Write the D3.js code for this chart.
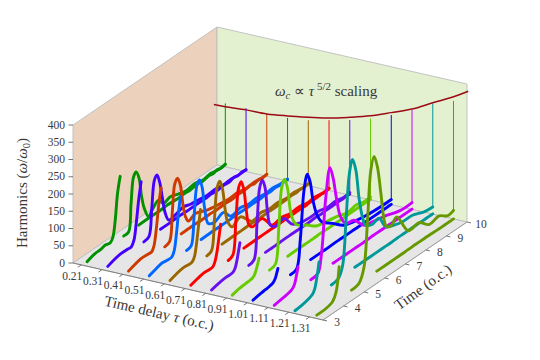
<!DOCTYPE html>
<html><head><meta charset="utf-8">
<script src="https://cdn.jsdelivr.net/npm/d3@7"></script>
<style>html,body{margin:0;background:#fff}svg{display:block}text{font-family:"Liberation Serif",serif;fill:#383838}</style>
</head><body><svg id="c" width="540" height="360"></svg>
<script>
const tauTicks=[0.21,0.31,0.41,0.51,0.61,0.71,0.81,0.91,1.01,1.11,1.21,1.31];
const timeTicks=[3,4,5,6,7,8,9,10];
const harmTicks=[0,50,100,150,200,250,300,350,400];
const colors=["#009000","#4400ff","#cc3a00","#0066ff","#996600","#ff0000","#6611ee","#66cc00","#0000ff","#cc00ff","#009999","#669900"];

const rampT=[
[3.28,3.68,3.9,4.17,4.41,4.54,4.65,4.76,4.89],
[3.28,3.6,3.9,4.2,4.42,4.55,4.66,4.78,4.9],
[3.28,3.6,3.9,4.2,4.4,4.52,4.63,4.75,4.86],
[3.28,3.6,3.9,4.15,4.37,4.49,4.59,4.69,4.79],
[3.28,3.6,3.9,4.15,4.35,4.47,4.56,4.66,4.76],
[3.28,3.6,3.9,4.15,4.35,4.45,4.55,4.64,4.73],
[3.28,3.6,3.9,4.15,4.32,4.42,4.5,4.58,4.66],
[3.28,3.6,3.9,4.12,4.28,4.38,4.48,4.58],
[3.28,3.6,3.9,4.1,4.25,4.35,4.42,4.49],
[3.3,3.6,3.9,4.1,4.22,4.3,4.38,4.46],
[3.3,3.6,3.9,4.1,4.2,4.28,4.38,4.47],
[3.35,3.6,3.8,4.1,4.22,4.33,4.44]];
const rampZ=[
[-2,6,6,10,7,19,63,135,180],
[-2,5,9,9,8,22,66,130,178],
[-2,5,10,9,8,22,66,132,175],
[-2,5,10,8,8,22,62,118,166],
[-2,5,9,8,8,20,50,98,144],
[-2,4,8,7,8,18,42,78,116],
[-2,3,6,6,7,14,30,54,79],
[-3,2,4,5,7,14,30,51],
[-4,0,2,4,7,14,25,39],
[-6,-3,0,3,8,17,36,59],
[-8,-6,-2,3,9,20,50,86],
[-9,-9,-8,-2,8,30,87]];

const peakT=[
[5.06,5.3,5.42,5.54,5.67,5.81,5.92,6.06,6.27,6.44,6.76,7.0,7.33,7.7,8.1,8.5,8.9,9.3,9.7,10],
[5.03,5.28,5.42,5.54,5.67,5.8,5.93,6.06,6.24,6.56,6.97,7.3,7.7,8.1,8.5,8.9,9.3,9.7,10],
[5.04,5.28,5.41,5.53,5.67,5.8,5.92,6.04,6.19,6.53,7.1,7.4,7.8,8.2,8.6,9,9.4,9.7,10],
[5.09,5.32,5.46,5.59,5.72,5.85,5.97,6.15,6.45,6.9,7.25,7.7,8.1,8.5,8.9,9.3,9.7,10],
[5.07,5.3,5.44,5.57,5.7,5.83,5.96,6.08,6.3,6.7,7.27,7.7,8.1,8.5,8.9,9.3,9.7,10],
[5.1,5.33,5.47,5.6,5.73,5.86,5.98,6.1,6.27,6.75,7.24,7.7,8.1,8.5,8.9,9.3,9.7,10],
[5.09,5.35,5.49,5.62,5.75,5.88,6.0,6.14,6.39,6.8,7.2,7.6,8.1,8.5,8.9,9.3,9.7,10],
[5.09,5.38,5.54,5.68,5.82,5.96,6.1,6.26,6.44,6.93,7.33,7.98,8.4,8.87,9.3,9.7,10],
[5.1,5.4,5.58,5.76,5.92,6.06,6.2,6.4,6.64,7.14,7.7,8.18,8.8,9.48,10],
[5.08,5.42,5.6,5.8,6.01,6.17,6.33,6.53,6.78,7.18,7.67,8.1,8.63,9.44,10],
[5.07,5.41,5.62,5.78,5.94,6.1,6.26,6.42,6.58,6.74,7.05,7.39,7.72,8.15,8.53,9.01,9.58,10],
[5.04,5.41,5.65,5.82,5.98,6.14,6.3,6.47,6.63,6.75,6.98,7.24,7.8,8.33,8.81,9.3,9.71,10]];
const peakZ=[
[0,2,80,152,161,137,84,40,7,19,35,16,22,14,8,12,6,10,5,8],
[-2,3,82,155,166,140,90,42,12,14,21,15,12,8,10,6,8,5,6],
[-3,3,85,160,170,145,85,45,25,33,20,16,12,9,11,6,8,5,6],
[-2,3,85,165,177,150,85,33,25,35,10,16,10,12,7,9,5,6],
[-3,3,90,175,188,160,95,55,31,44,8,16,10,12,7,9,5,6],
[-4,3,95,185,199,170,105,60,46,51,12,16,10,12,7,9,5,7],
[-4,2,100,200,216,190,115,70,57,63,30,18,14,15,9,11,6,8],
[-4,2,100,210,230,200,130,90,72,52,33,23,18,9,14,8,9],
[-4,1,80,215,254,225,165,115,86,62,34,25,18,15,15],
[-4,0,50,200,283,245,180,119,90,83,49,42,35,20,20],
[-5,0,30,150,280,317,280,190,131,100,90,94,56,44,38,37,24,21],
[-5,0,37,166,304,338,301,217,133,109,104,118,55,57,32,37,21,25]];

const floorStart=[5.79,5.84,5.84,5.8,5.81,5.86,5.9,5.98,6.08,6.16,6.21,6.27];
const floorT=[6.4,6.8,7.2,7.6,8,8.3,8.6,8.9,9.2,9.4,9.6,9.8,10];
const floorZ=[
[2,3,2,4,2,3,2,5,3,7,4,8,5,7],
[2,2,3,2,3,2,4,2,5,3,7,4,7,5],
[2,3,2,3,2,3,2,4,3,6,3,7,4,6],
[1,2,2,2,3,2,3,2,4,3,5,3,6,4],
[1,2,2,3,2,3,2,3,3,5,3,6,4,6],
[1,2,2,2,2,3,2,3,2,4,3,5,3,5],
[1,1,2,2,2,2,3,2,3,3,4,3,4,3],
[0,1,1,1,2,1,2,1,2,2,2,2,2,2],
[0,0,0,1,1,1,1,1,1,1,1,1,1,1],
[0,0,0,0,0,1,1,1,1,1,1,1,1,1],
[0,0,0,0,0,0,1,1,1,1,1,1,1,1],
[0,0,0,0,0,1,1,1,1,0,0,0,0,0]];

const markerTop=[184,184,181,183,190,204,218,236,260,288,321,342];
const omegaTau=[0.155,0.21,0.31,0.41,0.51,0.61,0.71,0.81,0.91,1.01,1.11,1.21,1.31,1.381];
const omegaZ=[173,174,179,181,189,199,210,226,244,267,291,323,354,380];

const tauS=d3.scaleLinear().domain([0.17,1.375]).range([0,1]);
const timeS=d3.scaleLinear().domain([3,10]).range([0,1]);
const zS=d3.scaleLinear().domain([0,400]).range([0,138]);
const P=(tau,t,z)=>{const f=tauS(tau),g=timeS(t);return [73+250*f+144*g,263+57*f-98*g-zS(z)];};
const tauMin=tauS.domain()[0],tauMax=tauS.domain()[1];

const svg=d3.select("#c");
const poly=(pts,fill)=>svg.append("polygon").attr("points",pts.map(p=>p.join(",")).join(" ")).attr("fill",fill).attr("stroke","#bdbdbd").attr("stroke-width",0.9);
poly([P(tauMin,3,0),P(tauMin,10,0),P(tauMin,10,400),P(tauMin,3,400)],"#ecd1bc");
poly([P(tauMin,10,0),P(tauMax,10,0),P(tauMax,10,400),P(tauMin,10,400)],"#e3f1d1");
poly([P(tauMin,3,0),P(tauMax,3,0),P(tauMax,10,0),P(tauMin,10,0)],"#e6e6e6");

const seg=(p,op)=>svg.append("line").attr("x1",p[0][0]).attr("y1",p[0][1]).attr("x2",p[1][0]).attr("y2",p[1][1]).attr("stroke",op).attr("stroke-width",0.9);
seg([P(tauMin,3,0),P(tauMax,3,0)],"#777");
seg([P(tauMax,3,0),P(tauMax,10,0)],"#999");

harmTicks.forEach(v=>{const p=P(tauMin,3,v);
 seg([[p[0]-4.5,p[1]],p],"#666");
 svg.append("text").attr("x",p[0]-8).attr("y",p[1]+3.6).attr("text-anchor","end").attr("font-size",11.5).text(v);});
tauTicks.forEach(v=>{const p=P(v,3,0);
 seg([p,[p[0]-3.5,p[1]+2.4]],"#666");
 svg.append("text").attr("x",p[0]-9).attr("y",p[1]+15).attr("text-anchor","middle").attr("font-size",11.5).text(v.toFixed(2));});
timeTicks.forEach(v=>{const p=P(tauMax,v,0);
 seg([p,[p[0]+4,p[1]+0.9]],"#666");
 svg.append("text").attr("x",p[0]+14).attr("y",p[1]+6).attr("text-anchor","middle").attr("font-size",11.5).text(v);});

svg.append("text").attr("transform","translate(158,318) rotate(13)").attr("text-anchor","middle").attr("font-size",15)
 .html('Time delay <tspan font-style="italic">τ</tspan> (o.c.)');
svg.append("text").attr("transform","translate(426,291) rotate(-36)").attr("text-anchor","middle").attr("font-size",15).text("Time (o.c.)");
svg.append("text").attr("transform","translate(27,193) rotate(-90)").attr("text-anchor","middle").attr("font-size",15)
 .html('Harmonics (<tspan font-style="italic">ω</tspan>/<tspan font-style="italic">ω</tspan><tspan dy="3" font-size="10.5">0</tspan><tspan dy="-3">)</tspan>');
svg.append("text").attr("x",275).attr("y",96).attr("font-size",15)
 .html('<tspan font-style="italic">ω</tspan><tspan font-style="italic" dy="3" font-size="10.5">c</tspan><tspan dy="-3"> ∝ </tspan><tspan font-style="italic">τ</tspan><tspan dy="-6" font-size="11"> 5/2</tspan><tspan dy="6"> scaling</tspan>');

const lineGen=d3.line().curve(d3.curveCatmullRom.alpha(0.5));
const path=(pts,col,w)=>svg.append("path").attr("d",lineGen(pts)).attr("fill","none").attr("stroke",col).attr("stroke-width",w).attr("stroke-linecap","round").attr("stroke-linejoin","round");

tauTicks.forEach((tau,i)=>{
 const endZ=peakZ[i][peakZ[i].length-1];
 const a=P(tau,10,endZ),b=P(tau,10,markerTop[i]);
 svg.append("line").attr("x1",a[0]).attr("y1",a[1]).attr("x2",b[0]).attr("y2",b[1]).attr("stroke",colors[i]).attr("stroke-width",1);
});
path(omegaTau.map((u,k)=>P(u,10,omegaZ[k])),"#9c0a14",1.5).attr("stroke-linecap","butt");

tauTicks.forEach((tau,i)=>{
 const fl=[floorStart[i],...floorT];
 path(fl.map((t,k)=>P(tau,t,floorZ[i][k])),colors[i],2.9);
 path(peakT[i].map((t,k)=>P(tau,t,peakZ[i][k])),colors[i],2.9);
 path(rampT[i].map((t,k)=>P(tau,t,rampZ[i][k])),colors[i],2.9);
});
</script></body></html>
